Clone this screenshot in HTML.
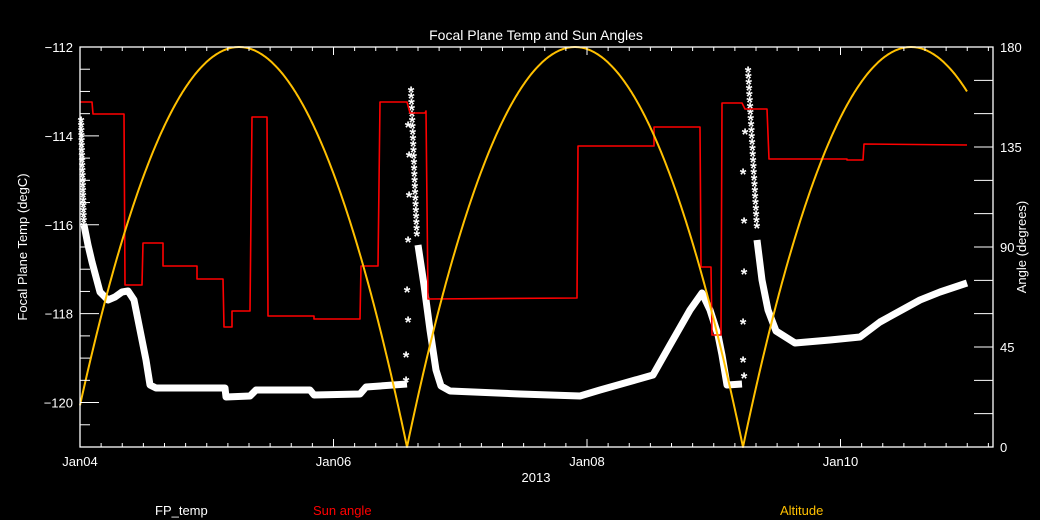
<!DOCTYPE html>
<html><head><meta charset="utf-8"><style>
html,body{margin:0;padding:0;background:#000;}
svg{display:block;font-family:"Liberation Sans",sans-serif;}
</style></head><body>
<svg id="s" width="1040" height="520" viewBox="0 0 1040 520" xmlns="http://www.w3.org/2000/svg">
<rect width="1040" height="520" fill="#000"/>
<text x="536" y="40" fill="#fff" font-size="14" text-anchor="middle">Focal Plane Temp and Sun Angles</text>
<text x="536" y="482" fill="#fff" font-size="13" text-anchor="middle">2013</text>
<text x="155" y="515" fill="#fff" font-size="13">FP_temp</text>
<text x="313" y="515" fill="#f00" font-size="13">Sun angle</text>
<text x="780" y="515" fill="#ffc000" font-size="13">Altitude</text>
<text transform="translate(27,247) rotate(-90)" fill="#fff" font-size="13" text-anchor="middle">Focal Plane Temp (degC)</text>
<text transform="translate(1026,247) rotate(-90)" fill="#fff" font-size="13" text-anchor="middle">Angle (degrees)</text>
<g id="g"></g>
</svg>
<script>
var g=document.getElementById('g'),h='';
var L=80,R=993,T=47,B=447;
function ln(x1,y1,x2,y2,c,w){h+='<line x1="'+x1+'" y1="'+y1+'" x2="'+x2+'" y2="'+y2+'" stroke="'+c+'" stroke-width="'+(w||1)+'"/>';}
var band=[[84,225],[88,245],[92,262],[100,292],[108,300],[115,297],[122,292],[128,291],[134,300],[140,330],[146,360],[150,385],[156,388],[225,388],[226,397],[250,396],[256,390],[310,390],[314,395],[360,394],[366,387],[407,384]];
var band2=[[418,245],[424,285],[430,330],[436,370],[441,386],[450,391],[520,394],[580,396],[600,390],[653,375],[670,345],[690,310],[702,293],[710,310],[718,335],[722,355],[727,385],[742,384]];
var band3=[[757,240],[762,280],[768,310],[776,331],[795,343],[830,340],[860,337],[880,322],[920,300],[940,292],[967,283]];
function pl(p,c,w){h+='<polyline fill="none" stroke="'+c+'" stroke-width="'+w+'" stroke-linejoin="round" points="'+p.map(function(a){return a.join(',')}).join(' ')+'"/>';}
pl(band,'#fff',7);pl(band2,'#fff',7);pl(band3,'#fff',7);
function ast(x,y){h+='<text x="'+x+'" y="'+(y+8)+'" fill="#fff" font-size="17" font-weight="bold" text-anchor="middle">*</text>';}
for(var y=90;y<240;y+=6)ast(411+(y-90)/150*6,y);
[[406,380],[406,355],[408,320],[407,290],[408,240],[409,195],[409,155],[408,125]].forEach(function(a){ast(a[0],a[1]);});
for(var y=70;y<232;y+=6)ast(748+(y-70)/160*9,y);
[[744,376],[743,360],[743,322],[744,272],[744,221],[743,172],[745,132]].forEach(function(a){ast(a[0],a[1]);});
for(var y=120;y<230;y+=5)ast(81+(y-120)/110*3,y);
var red=[[80,102],[92,102],[93,114],[124,114],[125,285],[142,285],[143,243],[163,243],[163,266],[197,266],[197,279],[223,279],[224,327],[232,327],[232,311],[250,311],[252,117],[267,117],[268,316],[314,316],[314,319],[360,319],[361,266],[378,266],[380,102],[407,102],[410,113],[425,113],[426,111],[428,299],[577,298],[578,146],[654,146],[654,127],[700,127],[701,267],[711,267],[712,335],[721,335],[722,103],[742,103],[745,109],[767,109],[769,159],[847,159],[847,160],[863,160],[864,144],[967,145]];
pl(red,'#ff0000',1.6);
var pts=[];for(var x=80;x<=967;x+=1){var best=0;[239,575,911].forEach(function(cc){var u=(x-cc)/168;var v=180*(1-u*u);if(v>best)best=v;});pts.push([x,(B-best*400/180).toFixed(1)]);}
pl(pts,'#ffc000',2);
h+='<rect x="'+L+'" y="'+T+'" width="'+(R-L)+'" height="'+(B-T)+'" fill="none" stroke="#fff" stroke-width="1.3"/>';
var dx=253.5/12;
for(var i=0;L+i*dx<R;i++){var x=L+i*dx,m=i%12==0,len=m?8:4;ln(x,B,x,B-len,'#fff');ln(x,T,x,T+len,'#fff');}
['Jan04','Jan06','Jan08','Jan10'].forEach(function(t,i){h+='<text x="'+(L+i*253.5)+'" y="466" fill="#fff" font-size="13" text-anchor="middle">'+t+'</text>';});
for(var v=-121;v<=-112;v+=0.5){var y=B-(v+121)*400/9,m=Math.abs(v-Math.round(v))<0.01&&Math.round(v)%2==0;ln(L,y,L+(m?19:10),y,'#fff');if(m)h+='<text x="73" y="'+(y+5)+'" fill="#fff" font-size="13" text-anchor="end">\u2212'+(-v)+'</text>';}
for(var a=0;a<=180;a+=15){var y=B-a*400/180;ln(R,y,R-19,y,'#fff');if(a%45==0)h+='<text x="1000" y="'+(y+5)+'" fill="#fff" font-size="13">'+a+'</text>';}
g.innerHTML=h;
</script>
</body></html>
